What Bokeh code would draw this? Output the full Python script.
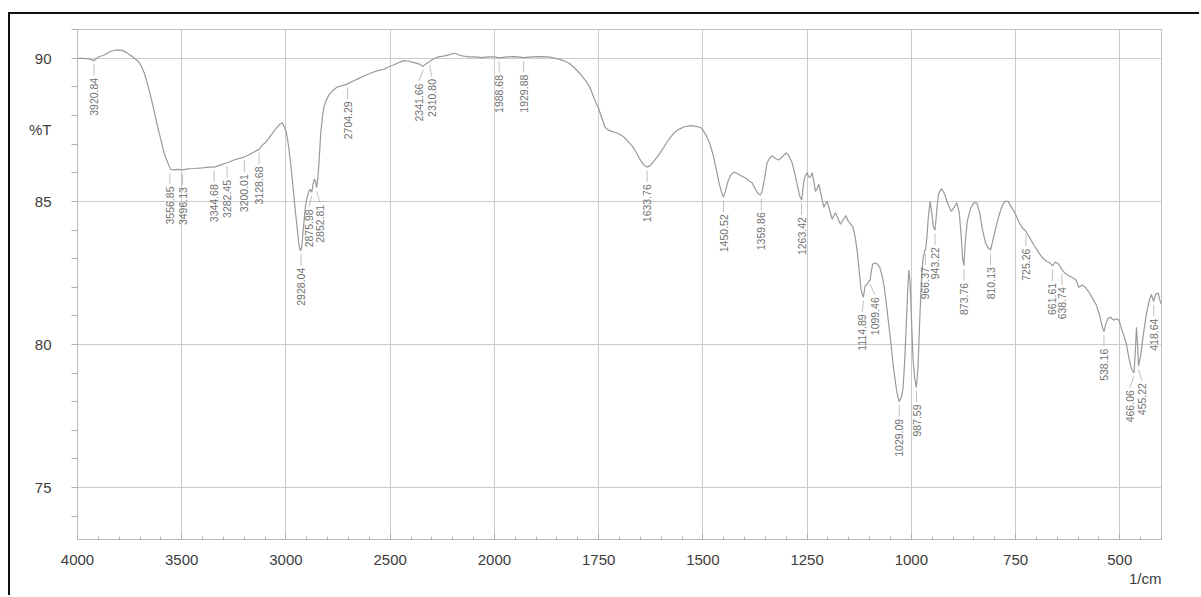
import math
from bokeh.plotting import figure
from bokeh.models import ColumnDataSource, Range1d, FixedTicker, CustomJSTransform, Title
from bokeh.transform import transform
from bokeh.layouts import column
from bokeh.core.properties import value
from bokeh.embed import file_html
from bokeh.resources import INLINE

# ---------------- data ----------------
wavenumber = [
    4000, 3970, 3945, 3921, 3900, 3872, 3840, 3808, 3785, 3760, 3735, 3712, 3695, 3680, 3664, 3648,
    3632, 3617, 3600, 3585, 3572, 3561, 3553, 3540, 3520, 3496, 3470, 3440, 3400, 3370, 3344, 3315,
    3283, 3249, 3225, 3200, 3180, 3160, 3140, 3129, 3115, 3100, 3085, 3073, 3058, 3042, 3030, 3018,
    3008, 3000, 2994, 2986, 2978, 2970, 2962, 2954, 2946, 2938, 2932, 2928, 2923, 2918, 2912, 2906,
    2898, 2890, 2883, 2876, 2870, 2864, 2858, 2853, 2848, 2842, 2834, 2826, 2818, 2806, 2794, 2775,
    2754, 2730, 2707, 2680, 2650, 2620, 2595, 2560, 2530, 2515, 2490, 2460, 2435, 2410, 2385, 2360,
    2342, 2330, 2320, 2311, 2295, 2270, 2245, 2220, 2205, 2190, 2170, 2150, 2120, 2090, 2060, 2030,
    2000, 1989, 1970, 1950, 1930, 1910, 1890, 1870, 1853, 1840, 1830, 1820, 1810, 1800, 1790, 1780,
    1770, 1762, 1755, 1750, 1742, 1735, 1728, 1718, 1708, 1700, 1694, 1686, 1678, 1670, 1660, 1650,
    1642, 1634, 1626, 1618, 1610, 1600, 1590, 1580, 1570, 1560, 1546, 1530, 1515, 1505, 1500, 1492,
    1484, 1476, 1469, 1462, 1456, 1451, 1446, 1440, 1434, 1428, 1423, 1415, 1406, 1398, 1390, 1382,
    1375, 1368, 1362, 1358, 1352, 1346, 1340, 1334, 1326, 1318, 1310, 1300, 1294, 1286, 1280, 1274,
    1268, 1263, 1258, 1254, 1250, 1246, 1242, 1238, 1234, 1230, 1226, 1222, 1216, 1210, 1206, 1202,
    1196, 1190, 1186, 1182, 1176, 1170, 1164, 1157, 1151, 1145, 1140, 1134, 1129, 1124, 1121, 1117,
    1115, 1111, 1106, 1102, 1099, 1096, 1093, 1087, 1081, 1076, 1070, 1065, 1061, 1055, 1049, 1043,
    1036, 1032, 1029, 1024, 1020, 1016, 1012, 1009, 1006, 1003, 1000, 996, 992, 988, 984, 980,
    976, 972, 968, 966, 963, 959, 955, 951, 947, 943, 939, 935, 928, 920, 912, 904,
    897, 891, 885, 880, 877, 874, 871, 866, 858, 850, 843, 836, 830, 822, 816, 810,
    805, 798, 790, 782, 775, 768, 760, 750, 742, 734, 725, 715, 705, 695, 685, 675,
    668, 661, 655, 648, 642, 638, 632, 625, 615, 605, 598, 590, 583, 575, 565, 557,
    550, 545, 541, 538, 534, 529, 522, 515, 508, 502, 496, 490, 484, 478, 472, 466,
    463, 460, 457, 455, 450, 444, 437, 430, 424, 419, 414, 408, 403, 400,
]
transmittance = [
    90.00, 90.00, 89.98, 89.92, 90.05, 90.12, 90.25, 90.30, 90.28, 90.18, 90.05, 89.92, 89.75, 89.50, 89.10, 88.65,
    88.15, 87.65, 87.15, 86.70, 86.45, 86.25, 86.12, 86.10, 86.12, 86.10, 86.14, 86.15, 86.17, 86.20, 86.20, 86.27,
    86.35, 86.45, 86.50, 86.55, 86.62, 86.70, 86.78, 86.82, 86.95, 87.05, 87.18, 87.30, 87.45, 87.60, 87.70, 87.75,
    87.60, 87.45, 87.25, 86.85, 86.35, 85.80, 85.20, 84.60, 84.05, 83.50, 83.30, 83.28, 83.50, 83.95, 84.40, 84.85,
    85.15, 85.35, 85.42, 85.32, 85.60, 85.78, 85.70, 85.48, 85.75, 86.30, 87.30, 87.90, 88.30, 88.55, 88.72, 88.88,
    89.00, 89.05, 89.10, 89.20, 89.30, 89.40, 89.48, 89.57, 89.62, 89.68, 89.75, 89.85, 89.92, 89.90, 89.85, 89.80,
    89.72, 89.80, 89.85, 89.88, 89.97, 90.05, 90.08, 90.12, 90.16, 90.18, 90.12, 90.08, 90.05, 90.05, 90.03, 90.05,
    90.05, 90.02, 90.05, 90.06, 90.03, 90.05, 90.06, 90.05, 90.00, 89.95, 89.90, 89.82, 89.70, 89.55, 89.38, 89.20,
    88.95, 88.65, 88.40, 88.25, 87.90, 87.60, 87.50, 87.45, 87.40, 87.35, 87.30, 87.20, 87.07, 86.95, 86.72, 86.45,
    86.28, 86.20, 86.25, 86.40, 86.55, 86.75, 86.98, 87.20, 87.38, 87.50, 87.60, 87.65, 87.62, 87.58, 87.50, 87.30,
    87.05, 86.65, 86.20, 85.70, 85.35, 85.15, 85.35, 85.70, 85.90, 86.00, 86.02, 85.95, 85.88, 85.82, 85.72, 85.65,
    85.45, 85.28, 85.22, 85.35, 85.80, 86.35, 86.50, 86.60, 86.50, 86.45, 86.55, 86.70, 86.60, 86.35, 86.00, 85.60,
    85.20, 85.05, 85.70, 85.90, 86.00, 85.85, 85.85, 86.00, 85.70, 85.35, 85.45, 85.60, 85.20, 84.80, 84.90, 85.00,
    84.70, 84.38, 84.50, 84.60, 84.40, 84.20, 84.35, 84.50, 84.30, 84.20, 84.10, 83.70, 83.15, 82.40, 81.95, 81.70,
    81.65, 82.05, 82.10, 82.20, 82.25, 82.55, 82.80, 82.85, 82.80, 82.70, 82.40, 82.00, 81.55, 80.80, 80.05, 79.20,
    78.45, 78.15, 78.00, 78.15, 78.45, 79.40, 80.75, 81.80, 82.60, 82.20, 81.00, 79.50, 78.80, 78.50, 79.20, 80.80,
    82.20, 83.00, 83.30, 83.30, 83.70, 84.50, 85.00, 84.60, 84.10, 84.00, 84.70, 85.25, 85.45, 85.25, 84.90, 84.65,
    84.80, 84.95, 84.60, 83.70, 83.00, 82.75, 83.50, 84.30, 84.75, 84.95, 84.95, 84.60, 84.05, 83.55, 83.38, 83.30,
    83.60, 84.05, 84.50, 84.85, 85.00, 85.00, 84.80, 84.55, 84.28, 84.08, 83.95, 83.70, 83.45, 83.22, 83.02, 82.90,
    82.85, 82.75, 82.88, 82.82, 82.70, 82.60, 82.50, 82.42, 82.35, 82.25, 82.00, 82.08, 82.00, 81.85, 81.60, 81.40,
    81.10, 80.80, 80.55, 80.45, 80.70, 80.90, 80.95, 80.85, 80.90, 80.85, 80.55, 80.30, 80.00, 79.50, 79.15, 79.00,
    79.70, 80.60, 79.90, 79.25, 79.60, 80.30, 81.00, 81.50, 81.75, 81.50, 81.75, 81.80, 81.50, 81.40,
]

peak_wn = [3920.84, 3556.85, 3496.13, 3344.68, 3282.45, 3200.01, 3128.68, 2928.04, 2875.98, 2852.81,
           2704.29, 2341.66, 2310.80, 1988.68, 1929.88, 1633.76, 1450.52, 1359.86, 1263.42, 1114.89,
           1099.46, 1029.09, 987.59, 966.37, 943.22, 873.76, 810.13, 725.26, 661.61, 638.74,
           538.16, 466.06, 455.22, 418.64]
peak_t = [89.92, 86.12, 86.10, 86.20, 86.35, 86.55, 86.82, 83.28, 85.32, 85.48,
          89.10, 89.72, 89.88, 90.02, 90.03, 86.20, 85.15, 85.22, 85.05, 81.65,
          82.25, 78.00, 78.50, 83.30, 84.00, 82.75, 83.30, 83.95, 82.75, 82.60,
          80.45, 79.00, 79.25, 81.50]

x_tick_labels = [4000, 3500, 3000, 2500, 2000, 1750, 1500, 1250, 1000, 750, 500]
y_tick_labels = [75, 80, 85, 90]
y_title = "%T"
y_title_at = 87.5
x_title = "1/cm"

# ---------------- style ----------------
# sideways nudge (cm-1) of crowded peak labels, as the printout does
label_nudge = {2875.98: 15, 2852.81: -15, 2341.66: 22, 2310.80: -10,
               1114.89: 3, 1099.46: -12, 466.06: 10, 455.22: -8}
LABEL_GAP = 0.6      # %T between curve and label top
LEAD_TOP = 0.12
LEAD_BOT = 0.52

CURVE = "#9a9a9a"
GRID = "#cbcbcb"
TXT = "#3c3c3c"
PEAKTXT = "#707070"


def to_split(w):
    # Shimadzu-style split axis: 4000-2000 at half the scale of 2000-400
    return (4000 - w) / 500 if w >= 2000 else 4 + (2000 - w) / 250


split = CustomJSTransform(v_func="""
    const out = new Float64Array(xs.length);
    for (let i = 0; i < xs.length; i++) {
        const w = xs[i];
        out[i] = w >= 2000 ? (4000 - w) / 500 : 4 + (2000 - w) / 250;
    }
    return out;
""")

spec = ColumnDataSource(dict(wn=wavenumber, t=transmittance))
labels = ColumnDataSource(dict(
    wn=peak_wn,
    lx=[w + label_nudge.get(w, 0) for w in peak_wn],
    y0=[t - LEAD_TOP for t in peak_t],
    y1=[t - LEAD_BOT for t in peak_t],
    ly=[t - LABEL_GAP for t in peak_t],
    txt=["%.2f" % w for w in peak_wn],
))

x_lo, x_hi = to_split(4000), to_split(400)

p = figure(width=1189, height=581, output_backend="svg", toolbar_location=None,
           x_range=Range1d(x_lo, x_hi), y_range=Range1d(73.18, 91.01),
           min_border_left=67, min_border_right=38, min_border_top=15, min_border_bottom=56)
p.background_fill_color = "white"
p.border_fill_color = "white"
p.outline_line_color = "#c0c0c0"

p.line(x=transform("wn", split), y="t", source=spec, line_color=CURVE, line_width=1.2)
p.segment(x0=transform("wn", split), y0="y0", x1=transform("lx", split), y1="y1",
          source=labels, line_color="#b0b0b0", line_width=0.8)
p.text(x=transform("lx", split), y="ly", text="txt", source=labels,
       angle=math.pi / 2, text_align="right", text_baseline="middle",
       text_font=value("Liberation Sans"), text_font_size="10.5px", text_color=PEAKTXT)

# x axis (split scale)
major_u = [to_split(w) for w in x_tick_labels]
minor_w = list(range(4000, 2000, -100)) + list(range(2000, 399, -50))
p.xaxis.ticker = FixedTicker(ticks=major_u, minor_ticks=[to_split(w) for w in minor_w])
p.xaxis.major_label_overrides = {u: str(w) for u, w in zip(major_u, x_tick_labels)}
p.xaxis.major_tick_in = 5
p.xaxis.major_tick_out = 0
p.xaxis.minor_tick_in = 3
p.xaxis.minor_tick_out = 0
p.xaxis.major_label_standoff = 15

# y axis: %T sits among the tick labels, as on the printout
p.yaxis.ticker = FixedTicker(ticks=y_tick_labels + [y_title_at], minor_ticks=list(range(73, 92)))
p.yaxis.major_label_overrides = {y_title_at: y_title}
p.yaxis.major_tick_in = 0
p.yaxis.major_tick_out = 0
p.yaxis.minor_tick_in = 0
p.yaxis.minor_tick_out = 6
p.yaxis.major_label_standoff = 20
p.ygrid.ticker = FixedTicker(ticks=y_tick_labels)

for ax in (p.xaxis, p.yaxis):
    ax.axis_line_color = "#b8b8b8"
    ax.major_tick_line_color = "#a8a8a8"
    ax.minor_tick_line_color = "#b0b0b0"
    ax.major_label_text_font = "Liberation Sans"
    ax.major_label_text_font_size = "15px"
    ax.major_label_text_color = TXT

p.xgrid.grid_line_color = GRID
p.ygrid.grid_line_color = GRID

p.add_layout(Title(text=x_title, align="right", text_font="Liberation Sans", text_font_size="15px",
                   text_font_style="normal", text_color=TXT, standoff=0), "below")

page = column(p, styles={"border-top": "2px solid #111", "border-left": "2px solid #111",
                         "position": "relative", "top": "12px", "left": "8px"})

open("out.html", "w").write(file_html(page, INLINE))
